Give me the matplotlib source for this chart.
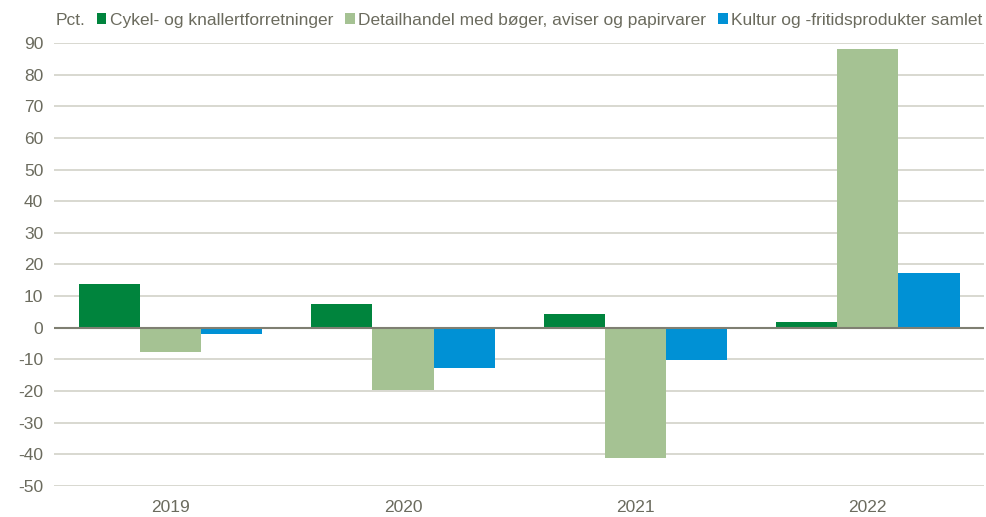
import matplotlib
matplotlib.use("Agg")
import matplotlib.pyplot as plt
import numpy as np

years = ["2019", "2020", "2021", "2022"]
series_names = [
    "Cykel- og knallertforretninger",
    "Detailhandel med bøger, aviser og papirvarer",
    "Kultur og -fritidsprodukter samlet",
]
cykel = [13.9, 7.6, 4.4, 1.9]
boger = [-7.6, -19.6, -41.1, 88.2]
kultur = [-1.9, -12.6, -10.1, 17.4]
colors = ["#00843D", "#A5C293", "#0091D5"]
yticks = list(range(-50, 100, 10))

text_color = "#6B6B5E"
plt.rcParams["font.family"] = ["Liberation Sans", "DejaVu Sans"]

fig = plt.figure(figsize=(9.87, 5.17), dpi=100)
ax = fig.add_axes([0.055, 0.06, 0.942, 0.857])

x = np.arange(len(years))
width = 0.263
for i, (vals, name) in enumerate(zip([cykel, boger, kultur], series_names)):
    ax.bar(x + (i - 1) * width, vals, width, color=colors[i], label=name, zorder=3)

ax.set_xlim(-0.5, len(years) - 0.5)
ax.set_ylim(-50, 90)
ax.set_yticks(yticks)
ax.set_yticklabels([str(t) for t in yticks])
ax.set_xticks(x)
ax.set_xticklabels(years)
ax.tick_params(axis="both", length=0, labelsize=12.5, colors=text_color)
ax.tick_params(axis="y", pad=8)
ax.tick_params(axis="x", pad=10)

ax.grid(axis="y", color="#D2D2C8", linewidth=1.2, zorder=0)
ax.axhline(0, color="#7F7F72", linewidth=1.5, zorder=4)
for s in ax.spines.values():
    s.set_visible(False)

fig.text(0.056, 0.961, "Pct.", fontsize=12.5, color=text_color, va="center")
fig.legend(
    *ax.get_legend_handles_labels(),
    loc="center left",
    bbox_to_anchor=(0.098, 0.961),
    ncol=3,
    frameon=False,
    fontsize=12.5,
    labelcolor=text_color,
    handlelength=0.55,
    handleheight=0.6,
    handletextpad=0.2,
    columnspacing=0.7,
    borderaxespad=0,
    borderpad=0,
)

fig.savefig("out.png", dpi=100)
